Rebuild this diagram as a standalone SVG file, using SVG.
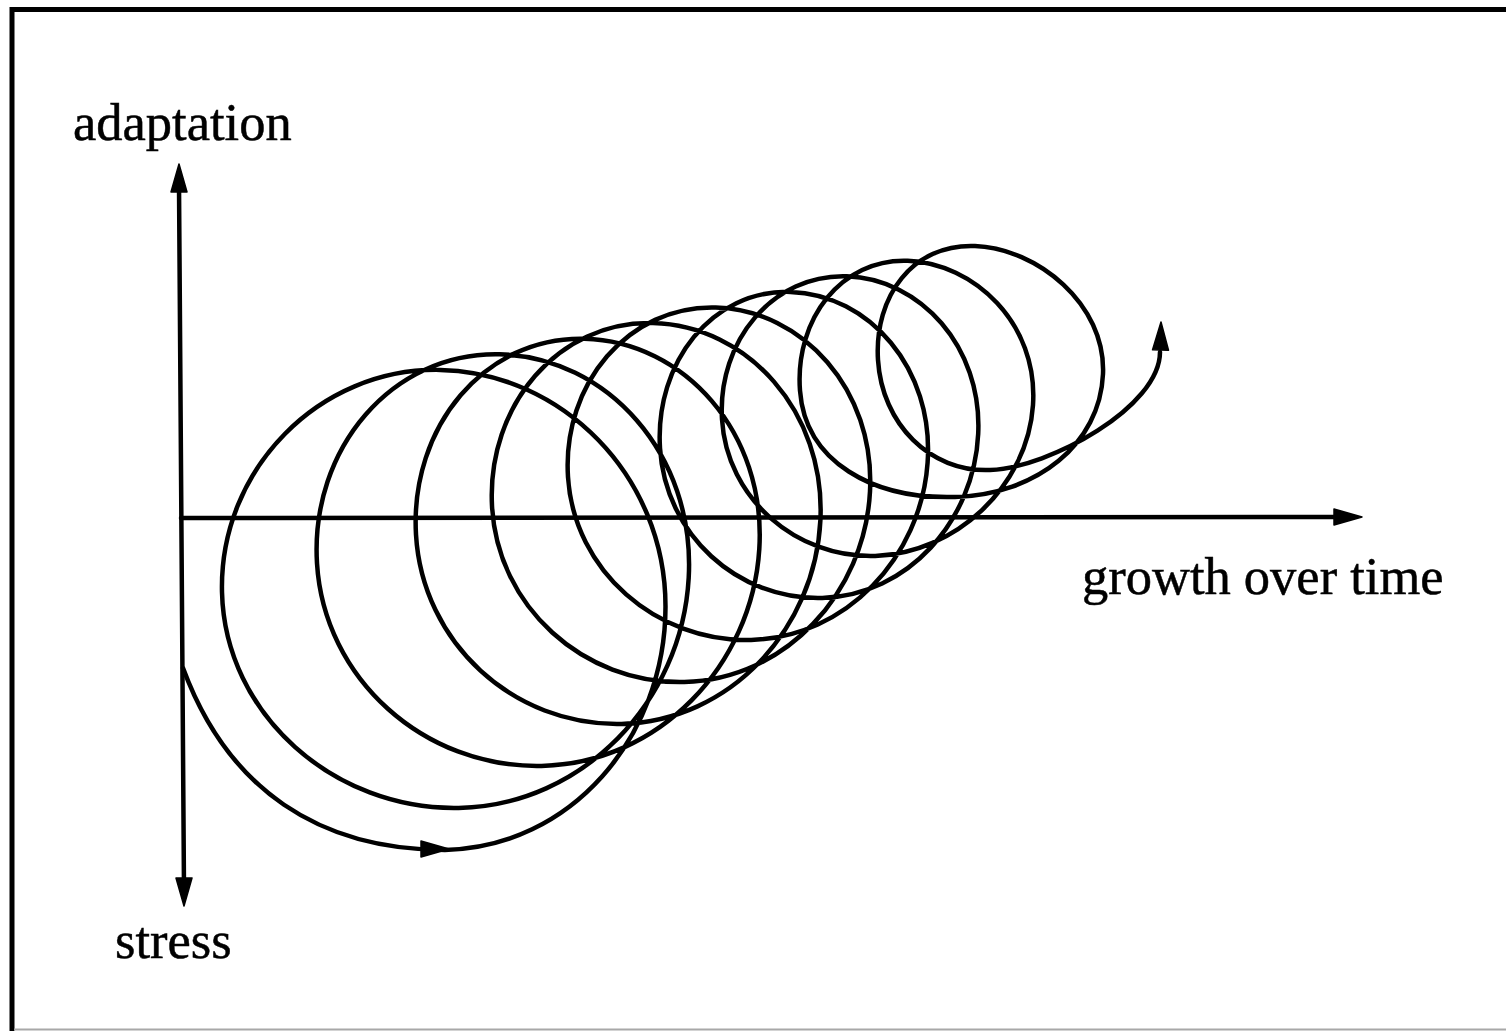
<svg xmlns="http://www.w3.org/2000/svg" width="1506" height="1031" viewBox="0 0 1506 1031">
<style>
.ln{fill:none;stroke:#000;stroke-width:4.5;stroke-linecap:round;stroke-linejoin:round}
.lbl{font-family:"Liberation Serif","Times New Roman",serif;font-size:52.5px;fill:#000;stroke:#000;stroke-width:0.5}
.ah{fill:#000;stroke:#000;stroke-width:1.5;stroke-linejoin:round}
</style>
<defs>
<path id="ah" d="M0,0 L-28,-8 L-28,8 Z"/>
</defs>
<rect x="0" y="0" width="1506" height="1031" fill="#fff"/>
<g id="frame">
<line x1="12" y1="7" x2="12" y2="1031" stroke="#000" stroke-width="5"/>
<line x1="10" y1="9.5" x2="1506" y2="9.5" stroke="#000" stroke-width="5"/>
<line x1="14" y1="1029.5" x2="1506" y2="1029.5" stroke="#a8a8a8" stroke-width="2"/>
</g>
<g id="connectors">
<path id="axis-adaptation-stress" class="ln" d="M179,185 L184,890"/>
<path id="axis-growth" class="ln" d="M181,518 L1345,517"/>
<path id="spiral" class="ln" d="M183,668 C228,790 320,850 445,849.9
C569.9,847.5 665.5,737.6 665.5,606.6
C665.5,475.6 561.5,372.3 440.3,369.9
C319.1,367.5 219,469.7 222,592.2
C225,714.7 334.3,810.3 458.7,807.9
C583.1,805.5 681.9,701.5 688.7,577.8
C695.5,454.1 606.7,356.7 499.6,354.3
C392.5,351.9 310,448.2 317,563.4
C324,678.6 424.1,768.3 541.5,765.9
C658.9,763.5 752.1,665.4 759.3,549
C766.5,432.6 683.9,341.1 584.4,338.7
C484.9,336.3 409.8,426.7 416,534.6
C422.2,642.5 513.3,726.3 621.5,723.9
C729.7,721.5 815.2,629.3 820.4,520.2
C825.6,411.1 747.1,325.5 652.9,323.1
C558.7,320.7 486.8,405.1 492,505.8
C497.2,606.5 583.4,684.3 684.3,681.9
C785.2,679.5 864.8,593.2 870,491.4
C875.2,389.6 802.6,309.9 715.7,307.5
C628.8,305.1 562.1,383.6 568,477
C573.9,570.4 656.1,642.3 751.1,639.9
C846.1,637.5 921,557.1 927.6,462.6
C934.2,368.1 868.7,294.3 790.5,291.9
C712.3,289.5 654.7,362.1 660,448.2
C665.3,534.3 737.2,600.3 822.4,597.9
C907.6,595.5 974.1,521 978.2,433.8
C982.3,346.6 920.2,278.7 846.8,276.3
C773.4,273.9 717.3,340.6 722,419.4
C726.7,498.2 796,558.3 875.2,555.9
C954.4,553.5 1027.6,487 1033,405
C1038.4,323 973.6,263.1 907.6,260.7
C841.6,258.3 794.6,319.1 800,390.6
C805.4,462.1 873,499.4 955,497
C1037,494.6 1100,444 1103,374
C1106,304 1037,248.4 975,246
C913,243.6 874,296 878,360
C882,424 930,472.4 990,470
C1050,467.6 1160,407 1160,352"/>
<use href="#ah" class="ah" transform="translate(179,164) rotate(-90)"/>
<use href="#ah" class="ah" transform="translate(184,906) rotate(90)"/>
<use href="#ah" class="ah" transform="translate(1362,517)"/>
<use href="#ah" class="ah" transform="translate(449,849)"/>
<use href="#ah" class="ah" transform="translate(1161,322) rotate(-89)"/>
</g>
<g id="label-adaptation"><text class="lbl" x="73" y="140">adaptation</text></g>
<g id="label-stress"><text class="lbl" x="115" y="958">stress</text></g>
<g id="label-growth"><text class="lbl" x="1082" y="594">growth over time</text></g>
</svg>
